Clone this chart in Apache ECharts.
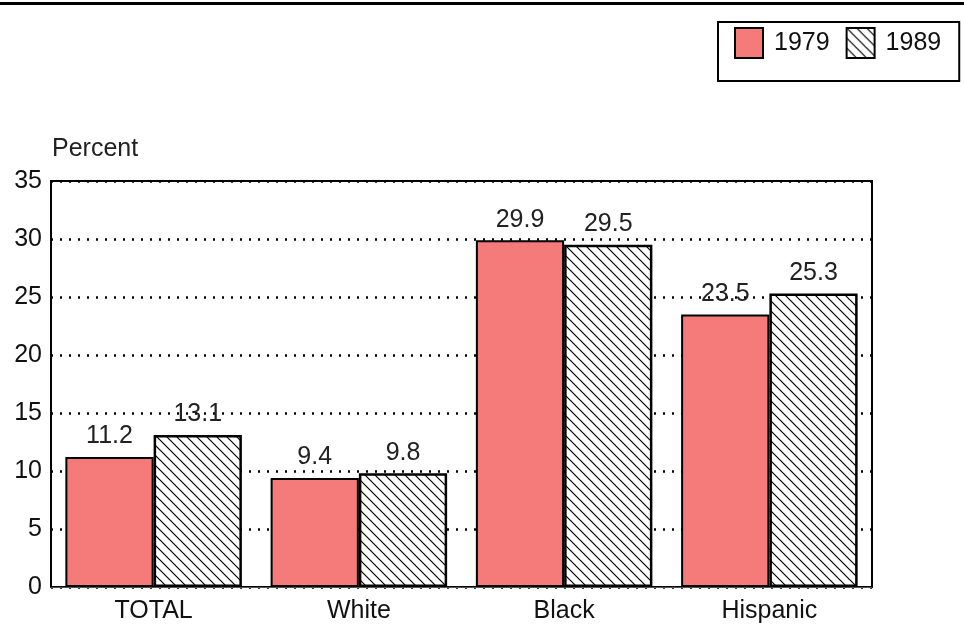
<!DOCTYPE html>
<html>
<head>
<meta charset="utf-8">
<script src="https://cdn.jsdelivr.net/npm/echarts@6/dist/echarts.min.js"></script>
<style>
html, body { margin: 0; padding: 0; background: #fff; }
#Chart { width: 964px; height: 624px; }
</style>
</head>
<body>
<div id="Chart"></div>
<script>
// 数据
var categories = ['TOTAL', 'White', 'Black', 'Hispanic'];
var values1979 = [11.2, 9.4, 29.9, 23.5];
var values1989 = [13.1, 9.8, 29.5, 25.3];
var yTicks = [0, 5, 10, 15, 20, 25, 30, 35];

var fontName = 'Liberation Sans';

// 斜线填充
function makeHatch() {
    var c = document.createElement('canvas');
    c.width = 10;
    c.height = 10;
    var ctx = c.getContext('2d');
    ctx.fillStyle = '#fff';
    ctx.fillRect(0, 0, 10, 10);
    ctx.strokeStyle = '#000';
    ctx.lineWidth = 1.2;
    ctx.beginPath();
    ctx.moveTo(-1, -1); ctx.lineTo(11, 11);
    ctx.moveTo(-6, 4); ctx.lineTo(6, 16);
    ctx.moveTo(4, -6); ctx.lineTo(16, 6);
    ctx.stroke();
    return c;
}

var chart = echarts.init(document.getElementById('Chart'));
var hatch = { image: makeHatch(), repeat: 'repeat' };

var labelStyle = {
    show: true,
    position: 'top',
    distance: 8,
    color: '#222',
    fontFamily: fontName,
    fontSize: 25,
    formatter: function (p) { return p.value.toFixed(1); }
};

var option = {
    animation: false,
    backgroundColor: '#fff',
    textStyle: { fontFamily: fontName },
    grid: {
        left: 51, right: 92, top: 181, bottom: 37,
        show: true, borderColor: '#000', borderWidth: 2
    },
    legend: {
        left: 718, top: 22,
        padding: [5, 18, 22, 16],
        borderColor: '#000', borderWidth: 2,
        itemWidth: 28, itemHeight: 30, itemGap: 16,
        textStyle: { fontSize: 25, color: '#111', fontFamily: fontName, padding: [0, 0, 0, 6] },
        data: [
            { name: '1979', icon: 'rect', itemStyle: { borderColor: '#000', borderWidth: 2 } },
            { name: '1989', icon: 'rect', itemStyle: { borderColor: '#000', borderWidth: 2 } }
        ]
    },
    graphic: [
        { type: 'rect', shape: { x: 0, y: 2, width: 964, height: 3 }, style: { fill: '#000' } },
        { type: 'text', x: 52, y: 149, style: { text: 'Percent', fontSize: 25, fontFamily: fontName, fill: '#222', verticalAlign: 'middle' } }
    ],
    xAxis: {
        type: 'category',
        data: categories,
        axisLine: { lineStyle: { color: '#555', width: 1 } },
        axisTick: { show: false },
        axisLabel: { fontSize: 25, color: '#111', margin: 12, fontFamily: fontName }
    },
    yAxis: {
        type: 'value',
        min: yTicks[0], max: yTicks[yTicks.length - 1], interval: 5,
        axisLine: { show: true, lineStyle: { color: '#000', width: 2 } },
        axisTick: { show: false },
        axisLabel: { fontSize: 25, color: '#111', margin: 9, fontFamily: fontName },
        splitLine: { lineStyle: { color: '#000', width: 2.5, type: [2, 7] } }
    },
    series: [
        {
            name: '1979', type: 'bar', data: values1979,
            barGap: '0%', barCategoryGap: '14%',
            itemStyle: { color: '#f57a7a', borderColor: '#000', borderWidth: 2 },
            label: labelStyle
        },
        {
            name: '1989', type: 'bar', data: values1989,
            barGap: '0%', barCategoryGap: '14%',
            itemStyle: { color: hatch, borderColor: '#000', borderWidth: 2.5 },
            label: labelStyle
        }
    ]
};

chart.setOption(option);
</script>
</body>
</html>
